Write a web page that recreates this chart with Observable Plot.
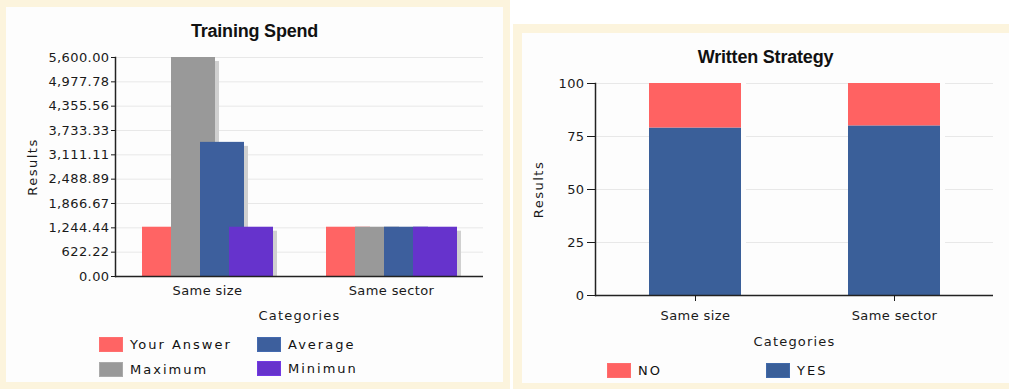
<!DOCTYPE html>
<html><head><meta charset="utf-8">
<script src="https://cdn.jsdelivr.net/npm/d3@7"></script>
<script src="https://cdn.jsdelivr.net/npm/@observablehq/plot@0.6"></script>
<style>
body{margin:0;width:1009px;height:389px;background:#fff;position:relative;overflow:hidden;font-family:"DejaVu Sans",sans-serif;}
.panel{position:absolute;background:#fcf4dd;}
.inner{position:absolute;background:#fdfdfd;}
.title{position:absolute;left:0;right:0;text-align:center;font:bold 18px "Liberation Sans",Arial,sans-serif;letter-spacing:-0.2px;color:#111;line-height:20px;}
.chart{position:absolute;left:0;}
.sw{position:absolute;width:24px;height:15px;box-sizing:border-box;}
.lab{position:absolute;white-space:nowrap;line-height:15px;font-size:13px;letter-spacing:2px;color:#111;}
g[aria-label="y-axis label"] text{letter-spacing:1.5px;}
g[aria-label="x-axis label"] text, g[aria-label="fx-axis label"] text{letter-spacing:1.2px;}
</style></head><body>
<div class="panel" style="left:0;top:0;width:510px;height:389px"><div class="inner" id="in1" style="left:6px;top:7px;width:497px;height:375px">
 <div class="title" style="top:14px">Training Spend</div>
 <div class="chart" id="c1" style="top:33px"></div>
</div></div>
<div class="panel" style="left:513px;top:24px;width:500px;height:365px"><div class="inner" id="in2" style="left:9px;top:9px;width:487px;height:350px">
 <div class="title" style="top:14px">Written Strategy</div>
 <div class="chart" id="c2" style="top:37px"></div>
</div></div>
<script>
// Training Spend data
const categories = ["Same size", "Same sector"];
const series = ["Your Answer", "Maximum", "Average", "Minimun"];
const yourAnswer = [1260, 1260];
const maximum = [5600, 1260];
const average = [3430, 1260];
const minimum = [1260, 1260];
const spendTicks = [0, 622.22, 1244.44, 1866.67, 2488.89, 3111.11, 3733.33, 4355.56, 4977.78, 5600];
const seriesColors = ["#ff6464", "#999999", "#3d5f9d", "#6633cc"];

// Written Strategy data
const strategyCats = ["Same size", "Same sector"];
const answers = ["NO", "YES"];
const yesValues = [79, 80];
const noValues = [21, 20];
const strategyTicks = [0, 25, 50, 75, 100];
const answerColors = ["#ff6262", "#3a5f99"];

const spend = [];
const seriesArrays = [yourAnswer, maximum, average, minimum];
categories.forEach((c, i) => seriesArrays.forEach((arr, j) => spend.push({category: c, series: series[j], value: arr[i]})));

const marks1 = [Plot.gridY(spendTicks, {stroke: "#e8e8e8", strokeOpacity: 1})];
series.forEach(s => {
  const d = spend.filter(r => r.series === s);
  marks1.push(Plot.barY(d, {fx: "category", x: "series", y: "value", fill: "#d0d0d0", dx: 4, insetTop: 4, insetRight: -15}));
  marks1.push(Plot.barY(d, {fx: "category", x: "series", y: "value", fill: "series", insetRight: -15}));
});
marks1.push(Plot.ruleY([0], {stroke: "#222", strokeWidth: 1.5}));
marks1.push(Plot.frame({anchor: "left", facet: "super", stroke: "#222", strokeWidth: 1.5}));
marks1.push(Plot.axisY({ticks: spendTicks, tickFormat: d3.format(",.2f"), tickSize: 4, tickPadding: 2, label: "Results", labelArrow: "none", labelAnchor: "center", labelOffset: 88}));

const chart1 = Plot.plot({
  width: 497, height: 285, marginTop: 17, marginBottom: 49, marginLeft: 108, marginRight: 20,
  style: {fontSize: "13px", fontFamily: "DejaVu Sans", color: "#1a1a1a", letterSpacing: "0.4px", background: "transparent"},
  fx: {domain: categories, padding: 0, axis: "bottom", tickSize: 0, tickPadding: 9, label: "Categories", labelArrow: "none", labelAnchor: "center", labelOffset: 43},
  x: {domain: series, padding: 0, insetLeft: 26, insetRight: 39.5, axis: null},
  y: {domain: [0, 5600], axis: null},
  color: {domain: series, range: seriesColors},
  marks: marks1
});
document.getElementById("c1").appendChild(chart1);

const strat = [];
strategyCats.forEach((c, i) => {
  strat.push({category: c, answer: "YES", value: yesValues[i]});
  strat.push({category: c, answer: "NO", value: noValues[i]});
});

const chart2 = Plot.plot({
  width: 487, height: 280, marginTop: 13, marginBottom: 55, marginLeft: 73, marginRight: 16,
  style: {fontSize: "13px", fontFamily: "DejaVu Sans", color: "#1a1a1a", letterSpacing: "0.4px", background: "transparent"},
  x: {domain: strategyCats, paddingInner: 0.54, paddingOuter: 0.27, axis: null},
  y: {domain: [0, 100], axis: null},
  color: {domain: answers, range: answerColors},
  marks: [
    Plot.gridY(strategyTicks, {stroke: "#e8e8e8", strokeOpacity: 1}),
    Plot.barY(strat, {x: "category", y: "value", fill: "#fdfdfd", dx: 5}),
    Plot.barY(strat, {x: "category", y: "value", fill: "answer"}),
    Plot.ruleY([0], {stroke: "#222", strokeWidth: 1.5}),
    Plot.frame({anchor: "left", stroke: "#222", strokeWidth: 1.5}),
    Plot.axisY({ticks: strategyTicks, tickSize: 8, tickPadding: 3, label: "Results", labelArrow: "none", labelAnchor: "center", labelOffset: 62}),
    Plot.axisX({tickSize: 6, tickPadding: 9, label: "Categories", labelArrow: "none", labelAnchor: "center", labelOffset: 50})
  ]
});
document.getElementById("c2").appendChild(chart2);

// HTML legends
function legend(container, items, positions) {
  items.forEach((it, i) => {
    const p = positions[i];
    const sw = document.createElement("div");
    sw.className = "sw";
    sw.style.left = p[0] + "px"; sw.style.top = p[1] + "px"; sw.style.background = it.color;
    sw.style.border = "1px solid " + d3.color(it.color).brighter(0.3);
    container.appendChild(sw);
    const lb = document.createElement("div");
    lb.className = "lab";
    lb.style.left = (p[0] + 31) + "px"; lb.style.top = p[1] + "px";
    lb.textContent = it.label;
    container.appendChild(lb);
  });
}
legend(document.getElementById("in1"),
  series.map((s, i) => ({label: s, color: seriesColors[i]})),
  [[93, 330], [93, 355], [251, 330], [251, 354]]);
legend(document.getElementById("in2"),
  answers.map((s, i) => ({label: s, color: answerColors[i]})),
  [[85, 330], [244, 330]]);
</script>
</body></html>
